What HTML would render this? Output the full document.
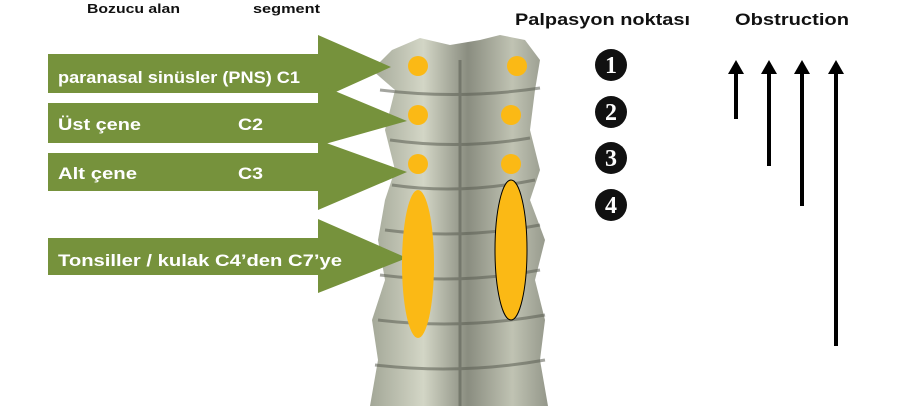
<!DOCTYPE html>
<html><head><meta charset="utf-8"><style>
body{margin:0;width:904px;height:406px;background:#fff;overflow:hidden;font-family:"Liberation Sans",sans-serif}
</style></head><body>
<svg width="904" height="406" xmlns="http://www.w3.org/2000/svg" style="position:absolute;left:0;top:0">
<defs>
<linearGradient id="sp" x1="0" x2="1"><stop offset="0" stop-color="#a3a797"/><stop offset="0.3" stop-color="#d3d6c6"/><stop offset="0.55" stop-color="#8a8d80"/><stop offset="0.8" stop-color="#c0c3b3"/><stop offset="1" stop-color="#94978a"/></linearGradient>
</defs>
<path d="M392,50 L420,38 L450,45 L480,40 L500,35 L525,40 L540,60 L535,90 L530,130 L540,170 L530,200 L545,240 L535,280 L545,320 L540,360 L548,406 L370,406 L378,360 L372,320 L385,280 L378,240 L385,200 L395,170 L385,130 L395,90 L372,70 Z" fill="url(#sp)"/>
<g stroke="#5a5d52" stroke-width="3" fill="none" opacity="0.55">
<path d="M380,90 Q460,100 540,88"/><path d="M390,140 Q460,150 530,138"/><path d="M392,185 Q460,195 535,180"/><path d="M385,230 Q460,240 540,225"/><path d="M380,275 Q460,285 540,270"/><path d="M378,320 Q460,330 545,315"/><path d="M375,365 Q460,375 545,360"/>
<path d="M460,60 L460,406"/>
</g>
<g fill="#76923c">
<polygon points="48,54 318,54 318,35 391,67 318,100 318,93 48,93"/>
<polygon points="48,103 318,103 318,84 407,121 318,146 318,143 48,143"/>
<polygon points="48,153 318,153 318,140 407,172 318,210 318,191 48,191"/>
<polygon points="48,238 318,238 318,219 407,258 318,293 318,275 48,275"/>
</g>
<g fill="#fff" font-weight="bold" font-size="17">
<text x="58" y="83" textLength="242" lengthAdjust="spacingAndGlyphs">paranasal sinüsler (PNS)  C1</text>
<text x="58" y="130" textLength="83" lengthAdjust="spacingAndGlyphs">Üst çene</text><text x="238" y="130" textLength="25" lengthAdjust="spacingAndGlyphs">C2</text>
<text x="58" y="179" textLength="79" lengthAdjust="spacingAndGlyphs">Alt çene</text><text x="238" y="179" textLength="25" lengthAdjust="spacingAndGlyphs">C3</text>
<text x="58" y="266" textLength="284" lengthAdjust="spacingAndGlyphs">Tonsiller / kulak C4’den C7’ye</text>
</g>
<g fill="#fbb915">
<circle cx="418" cy="66" r="10"/><circle cx="517" cy="66" r="10"/>
<circle cx="418" cy="115" r="10"/><circle cx="511" cy="115" r="10"/>
<circle cx="418" cy="164" r="10"/><circle cx="511" cy="164" r="10"/>
<ellipse cx="418" cy="264" rx="16" ry="74"/>
<ellipse cx="511" cy="250" rx="16" ry="70" stroke="#000" stroke-width="1"/>
</g>
<g fill="#111" font-weight="bold">
<text x="87" y="13" font-size="13" textLength="93" lengthAdjust="spacingAndGlyphs">Bozucu alan</text>
<text x="253" y="13" font-size="13" textLength="67" lengthAdjust="spacingAndGlyphs">segment</text>
<text x="515" y="25" font-size="17" textLength="175" lengthAdjust="spacingAndGlyphs">Palpasyon noktası</text>
<text x="735" y="25" font-size="17" textLength="114" lengthAdjust="spacingAndGlyphs">Obstruction</text>
</g>
<g>
<circle cx="611" cy="65" r="16" fill="#111"/><circle cx="611" cy="112" r="16" fill="#111"/>
<circle cx="611" cy="158" r="16" fill="#111"/><circle cx="611" cy="205" r="16" fill="#111"/>
<g fill="#fff" font-family="Liberation Serif,serif" font-weight="bold" font-size="24" text-anchor="middle">
<text x="611" y="73">1</text><text x="611" y="120">2</text><text x="611" y="166">3</text><text x="611" y="213">4</text>
</g>
</g>
<g fill="#000">
<rect x="734" y="72" width="4" height="47"/><polygon points="728,74 744,74 736,60"/>
<rect x="767" y="72" width="4" height="94"/><polygon points="761,74 777,74 769,60"/>
<rect x="800" y="72" width="4" height="134"/><polygon points="794,74 810,74 802,60"/>
<rect x="834" y="72" width="4" height="274"/><polygon points="828,74 844,74 836,60"/>
</g>
</svg>
</body></html>
